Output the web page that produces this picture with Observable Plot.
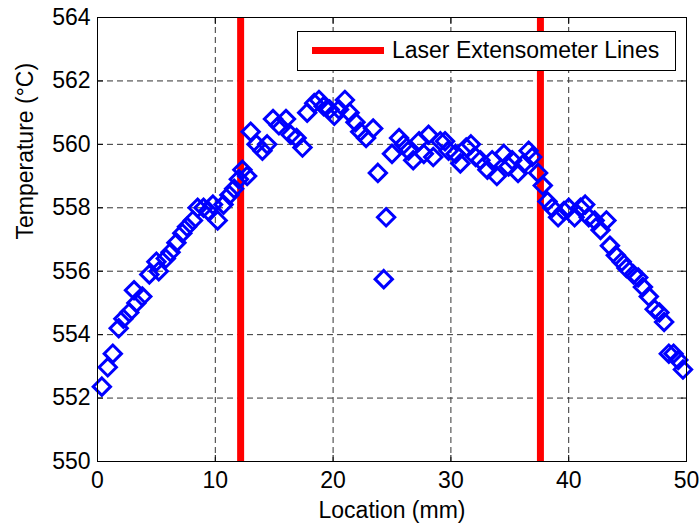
<!DOCTYPE html>
<html>
<head>
<meta charset="utf-8">
<script src="https://cdn.jsdelivr.net/npm/d3@7"></script>
<script src="https://cdn.jsdelivr.net/npm/@observablehq/plot@0.6"></script>
<style>
  body { margin: 0; background: #fff; }
  #chart { position: relative; width: 699px; height: 523px; font-family: "Liberation Sans", Arial, sans-serif; }
  .legend { position: absolute; left: 297px; top: 31px; width: 379px; height: 40px; box-sizing: border-box;
            border: 1px solid #000; background: #fff; }
  .legend .swatch { position: absolute; left: 14px; top: 15px; width: 72px; height: 7px; background: #ff0000; }
  .legend .label { position: absolute; left: 94px; top: 5px; font-size: 23px; line-height: 27px; color: #000; white-space: nowrap; }
</style>
</head>
<body>
<div id="chart"></div>
<script>
// Temperature profile along the specimen gauge section
const location_mm = [
  0.37, 0.87, 1.3, 1.8, 2.2, 2.7, 3.1, 3.3, 3.8, 4.4, 5.0, 5.2, 5.8, 6.2, 6.7, 7.2, 7.6, 8.1, 8.5, 9.0,
  9.4, 9.8, 10.2, 10.7, 11.2, 11.6, 12.0, 12.3, 12.7, 13.0, 13.5, 14.0, 14.4, 14.9, 15.4, 16.0, 16.4, 16.9, 17.4, 17.8,
  18.4, 18.8, 19.2, 19.7, 20.1, 20.5, 21.0, 21.4, 21.9, 22.3, 22.8, 23.4, 23.8, 24.3, 24.5, 25.0, 25.6, 26.0, 26.4, 26.8,
  27.3, 27.7, 28.1, 28.5, 29.1, 29.5, 29.8, 30.4, 30.8, 31.3, 31.7, 32.1, 32.5, 33.1, 33.5, 33.9, 34.5, 34.9, 35.2, 35.7,
  36.2, 36.6, 36.9, 37.4, 37.8, 38.2, 38.6, 39.1, 39.6, 40.0, 40.5, 41.0, 41.4, 41.7, 42.2, 42.7, 43.2, 43.5, 44.0, 44.5,
  44.9, 45.5, 45.9, 46.3, 46.8, 47.3, 47.7, 48.1, 48.5, 48.9, 49.3, 49.7
];
const temperature_C = [
  552.36, 552.97, 553.4, 554.2, 554.5, 554.7, 555.4, 555.0, 555.2, 555.9, 556.3, 556.0, 556.4, 556.6, 556.9, 557.2, 557.4, 557.6, 558.0, 558.0,
  557.9, 558.1, 557.6, 558.1, 558.4, 558.6, 558.9, 559.2, 559.0, 560.4, 560.0, 559.8, 560.0, 560.8, 560.6, 560.8, 560.3, 560.2, 559.9, 561.0,
  561.3, 561.4, 561.2, 561.1, 560.9, 561.1, 561.4, 561.0, 560.7, 560.4, 560.2, 560.5, 559.1, 555.75, 557.7, 559.7, 560.2, 560.0, 559.8, 559.5,
  560.1, 559.7, 560.3, 559.6, 560.1, 560.1, 559.8, 559.7, 559.4, 559.9, 560.0, 559.6, 559.5, 559.2, 559.5, 559.0, 559.7, 559.3, 559.5, 559.1,
  559.4, 559.8, 559.6, 559.1, 558.7, 558.2, 558.0, 557.7, 557.9, 558.0, 557.7, 558.0, 558.1, 557.7, 557.6, 557.3, 557.6, 556.8, 556.5, 556.3,
  556.1, 555.9, 555.8, 555.5, 555.2, 554.8, 554.7, 554.4, 553.4, 553.4, 553.2, 552.9
];
// Positions of the laser extensometer reference lines (mm)
const laserLines = [12.15, 37.6];

const xTicks = [0, 10, 20, 30, 40, 50];
const yTicks = [550, 552, 554, 556, 558, 560, 562, 564];
const xLabel = "Location (mm)";
const yLabel = "Temperature (°C)";
const legendLabel = "Laser Extensometer Lines";

const points = location_mm.map((x, i) => ({x, t: temperature_C[i]}));

const grid = {stroke: "#333", strokeOpacity: 1, strokeWidth: 1, strokeDasharray: "6,4"};
const fontSize = 23;

const chart = Plot.plot({
  width: 699,
  height: 523,
  marginLeft: 97,
  marginRight: 13,
  marginTop: 17,
  marginBottom: 62,
  style: {fontFamily: "'Liberation Sans', Arial, sans-serif", fontSize: fontSize + "px", color: "#000", background: "#fff", overflow: "visible"},
  x: {domain: [0, 50]},
  y: {domain: [550, 564]},
  marks: [
    Plot.gridX(xTicks, grid),
    Plot.gridY(yTicks, grid),
    Plot.ruleX(laserLines, {stroke: "#ff0000", strokeWidth: 7}),
    Plot.dot(points, {x: "x", y: "t", symbol: "diamond2", r: 7.8, stroke: "#0000ff", strokeWidth: 3, fill: "none"}),
    Plot.frame({stroke: "#000", strokeWidth: 1}),
    // inward ticks on all four sides, labels on bottom and left
    Plot.axisX(xTicks, {anchor: "bottom", tickSize: -6, tickPadding: 16, label: null, fontSize}),
    Plot.axisY(yTicks, {anchor: "left", tickSize: -6, tickPadding: 13, label: null, fontSize}),
    Plot.axisX(xTicks, {anchor: "top", tickSize: -6, label: null, fill: "none"}),
    Plot.axisY(yTicks, {anchor: "right", tickSize: -6, label: null, fill: "none"}),
    Plot.text([xLabel], {text: d => d, frameAnchor: "bottom", dy: 56, fontSize}),
    Plot.text([yLabel], {text: d => d, frameAnchor: "left", dx: -72, rotate: -90, fontSize})
  ]
});

const root = document.getElementById("chart");
root.appendChild(chart);

const legend = document.createElement("div");
legend.className = "legend";
legend.innerHTML = `<div class="swatch"></div><div class="label"></div>`;
legend.querySelector(".label").textContent = legendLabel;
root.appendChild(legend);
</script>
</body>
</html>
